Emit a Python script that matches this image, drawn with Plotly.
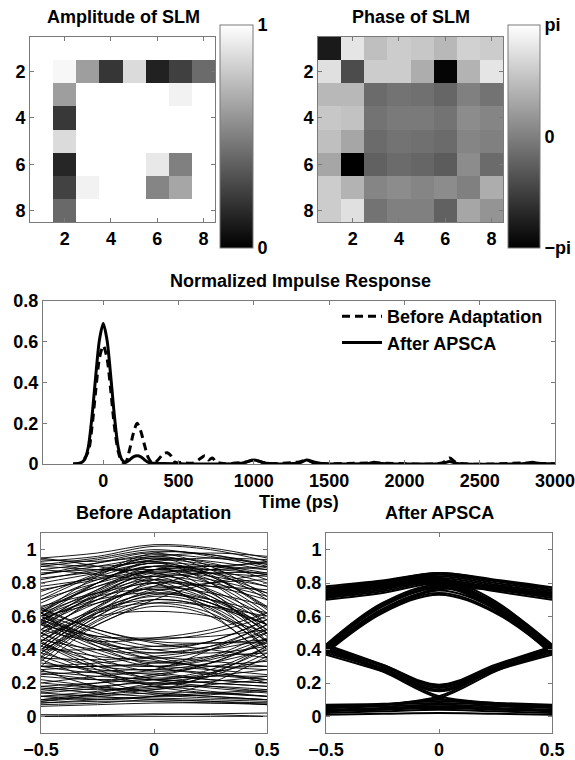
import plotly.graph_objects as go

FONT = "Liberation Sans, Arial, sans-serif"

# ---------------- SLM maps (8x8) ----------------
cells = [1, 2, 3, 4, 5, 6, 7, 8]
amplitude = [
    [1.00, 1.00, 1.00, 1.00, 1.00, 1.00, 1.00, 1.00],
    [1.00, 0.97, 0.62, 0.21, 0.86, 0.13, 0.25, 0.42],
    [1.00, 0.62, 1.00, 1.00, 1.00, 1.00, 0.95, 1.00],
    [1.00, 0.22, 1.00, 1.00, 1.00, 1.00, 1.00, 1.00],
    [1.00, 0.86, 1.00, 1.00, 1.00, 1.00, 1.00, 1.00],
    [1.00, 0.15, 1.00, 1.00, 1.00, 0.91, 0.50, 1.00],
    [1.00, 0.26, 0.95, 1.00, 1.00, 0.52, 0.65, 1.00],
    [1.00, 0.41, 1.00, 1.00, 1.00, 1.00, 1.00, 1.00],
]
phase = [
    [-2.51, 2.51, 1.57, 1.88, 1.76, 1.38, 2.01, 1.88],
    [2.39, -1.26, 1.88, 1.88, 1.13, -3.02, 1.26, 2.51],
    [1.38, 1.38, -0.50, -0.31, -0.38, -0.63, 0.00, -0.31],
    [1.76, 1.63, -0.31, -0.13, -0.13, -0.31, 0.31, 0.13],
    [1.57, 0.94, -0.50, -0.31, -0.38, -0.50, 0.13, 0.00],
    [0.94, -3.14, -0.75, -0.50, -0.63, -0.88, 0.31, -0.50],
    [1.88, 1.26, 0.13, 0.31, 0.13, 0.31, 0.00, 1.13],
    [1.88, 2.39, -0.31, 0.00, 0.00, -0.75, 0.94, 0.50],
]
PI = 3.141592653589793

# ---------------- Impulse responses ----------------
t_before = [-200, -150, -100, -75, -50, -25, 0, 25, 50, 75, 100, 125, 150, 175, 200, 225, 250,
            275, 300, 325, 350, 400, 425, 450, 475, 500, 525, 550, 600, 650, 675, 700, 725, 750,
            800, 950, 1000, 1050, 1100, 1300, 1350, 1400, 1800, 2250, 2300, 2350, 2850, 3000]
r_before = [0.0, 0.005, 0.06, 0.18, 0.36, 0.52, 0.58, 0.52, 0.36, 0.18, 0.06, 0.01, 0.01, 0.07, 0.15, 0.2, 0.16,
            0.09, 0.03, 0.005, 0.01, 0.05, 0.055, 0.04, 0.01, 0.005, 0.01, 0.005, 0.005, 0.03, 0.04, 0.02, 0.03, 0.01,
            0.002, 0.01, 0.02, 0.01, 0.002, 0.01, 0.02, 0.005, 0.005, 0.005, 0.03, 0.005, 0.005, 0.0]
t_after = [-200, -150, -125, -100, -75, -50, -25, 0, 25, 50, 75, 100, 125, 150, 175, 200, 225, 250,
           275, 300, 350, 400, 500, 900, 950, 1000, 1050, 1100, 1300, 1350, 1400, 1450, 1750, 1800,
           1850, 2250, 2300, 2350, 2800, 2850, 2900, 3000]
r_after = [0.0, 0.005, 0.02, 0.08, 0.23, 0.43, 0.61, 0.69, 0.61, 0.43, 0.23, 0.08, 0.02, 0.008, 0.02, 0.035, 0.04, 0.035,
           0.02, 0.008, 0.003, 0.002, 0.001, 0.002, 0.01, 0.02, 0.01, 0.002, 0.005, 0.02, 0.01, 0.003, 0.002, 0.008,
           0.002, 0.003, 0.012, 0.003, 0.002, 0.008, 0.002, 0.001]
time_ticks = [0, 500, 1000, 1500, 2000, 2500, 3000]

# ---------------- Eye diagrams (levels at eye_t) ----------------
eye_t = [-0.5, -0.25, 0.0, 0.25, 0.5]
eye_before = [
    (0.93, 0.96, 1.02, 1.00, 0.93), (0.95, 0.98, 1.03, 1.01, 0.95), (0.90, 0.94, 0.99, 0.97, 0.90),
    (0.88, 0.92, 0.97, 0.95, 0.92), (0.85, 0.90, 0.95, 0.93, 0.88), (0.80, 0.86, 0.92, 0.90, 0.85),
    (0.92, 0.90, 0.93, 0.95, 0.94), (0.78, 0.83, 0.90, 0.88, 0.80), (0.86, 0.88, 0.88, 0.86, 0.84),
    (0.94, 0.93, 0.96, 0.98, 0.96), (0.83, 0.87, 0.94, 0.91, 0.86), (0.91, 0.95, 1.00, 0.96, 0.89),
    (0.40, 0.62, 0.72, 0.66, 0.45), (0.45, 0.66, 0.78, 0.72, 0.50), (0.50, 0.70, 0.82, 0.75, 0.55),
    (0.55, 0.73, 0.86, 0.80, 0.60), (0.60, 0.76, 0.88, 0.82, 0.62), (0.35, 0.58, 0.70, 0.64, 0.40),
    (0.30, 0.55, 0.66, 0.60, 0.35), (0.42, 0.65, 0.80, 0.78, 0.70), (0.62, 0.80, 0.92, 0.80, 0.55),
    (0.65, 0.80, 0.90, 0.75, 0.45), (0.48, 0.60, 0.63, 0.60, 0.50), (0.58, 0.72, 0.85, 0.88, 0.85),
    (0.38, 0.60, 0.76, 0.70, 0.58), (0.62, 0.84, 0.96, 0.88, 0.70), (0.70, 0.85, 0.95, 0.85, 0.65),
    (0.52, 0.74, 0.84, 0.70, 0.40), (0.45, 0.64, 0.75, 0.80, 0.82), (0.68, 0.82, 0.90, 0.88, 0.90),
    (0.55, 0.70, 0.80, 0.62, 0.35), (0.60, 0.72, 0.76, 0.68, 0.55), (0.40, 0.63, 0.74, 0.70, 0.62),
    (0.63, 0.78, 0.86, 0.74, 0.52), (0.36, 0.60, 0.73, 0.68, 0.48), (0.57, 0.75, 0.88, 0.86, 0.78),
    (0.45, 0.62, 0.68, 0.62, 0.42), (0.50, 0.64, 0.70, 0.66, 0.55), (0.33, 0.57, 0.68, 0.66, 0.60),
    (0.58, 0.70, 0.74, 0.68, 0.52), (0.64, 0.78, 0.84, 0.80, 0.72), (0.70, 0.80, 0.87, 0.84, 0.78),
    (0.75, 0.84, 0.92, 0.86, 0.74), (0.82, 0.88, 0.93, 0.84, 0.66), (0.48, 0.72, 0.88, 0.90, 0.88),
    (0.60, 0.80, 0.94, 0.92, 0.82), (0.85, 0.92, 0.98, 0.90, 0.72), (0.72, 0.86, 0.98, 0.97, 0.91),
    (0.56, 0.76, 0.90, 0.84, 0.64), (0.66, 0.74, 0.80, 0.78, 0.76), (0.38, 0.62, 0.82, 0.86, 0.86),
    (0.90, 0.88, 0.86, 0.76, 0.60), (0.42, 0.66, 0.84, 0.82, 0.74), (0.52, 0.68, 0.77, 0.74, 0.66),
    (0.62, 0.74, 0.82, 0.72, 0.50), (0.76, 0.82, 0.88, 0.90, 0.92),
    (0.62, 0.50, 0.42, 0.45, 0.58), (0.60, 0.45, 0.38, 0.42, 0.55), (0.55, 0.40, 0.32, 0.36, 0.50),
    (0.50, 0.35, 0.27, 0.32, 0.45), (0.45, 0.30, 0.23, 0.28, 0.42), (0.40, 0.26, 0.19, 0.24, 0.38),
    (0.58, 0.48, 0.46, 0.50, 0.60), (0.52, 0.45, 0.47, 0.52, 0.62), (0.65, 0.52, 0.44, 0.40, 0.35),
    (0.38, 0.30, 0.28, 0.32, 0.40), (0.62, 0.42, 0.30, 0.25, 0.22), (0.30, 0.26, 0.28, 0.40, 0.55),
    (0.48, 0.32, 0.22, 0.18, 0.15), (0.28, 0.18, 0.16, 0.25, 0.42), (0.57, 0.42, 0.35, 0.40, 0.52),
    (0.44, 0.33, 0.30, 0.35, 0.47), (0.60, 0.47, 0.40, 0.38, 0.42),
    (0.55, 0.48, 0.47, 0.48, 0.52), (0.64, 0.52, 0.45, 0.44, 0.46), (0.46, 0.40, 0.38, 0.42, 0.50),
    (0.35, 0.34, 0.36, 0.40, 0.46), (0.58, 0.44, 0.34, 0.30, 0.30), (0.42, 0.36, 0.33, 0.30, 0.28),
    (0.30, 0.30, 0.32, 0.36, 0.38), (0.50, 0.38, 0.30, 0.34, 0.44), (0.62, 0.46, 0.36, 0.28, 0.20),
    (0.36, 0.26, 0.22, 0.26, 0.34), (0.24, 0.22, 0.24, 0.32, 0.46), (0.44, 0.28, 0.18, 0.14, 0.12),
    (0.18, 0.16, 0.18, 0.26, 0.40), (0.12, 0.10, 0.12, 0.20, 0.36), (0.34, 0.22, 0.14, 0.12, 0.10),
    (0.27, 0.24, 0.22, 0.20, 0.18), (0.14, 0.17, 0.22, 0.24, 0.24), (0.09, 0.13, 0.17, 0.18, 0.16),
    (0.20, 0.17, 0.13, 0.11, 0.10), (0.30, 0.32, 0.35, 0.33, 0.30), (0.08, 0.09, 0.09, 0.08, 0.08),
    (0.17, 0.14, 0.12, 0.13, 0.15), (0.40, 0.40, 0.42, 0.44, 0.44), (0.56, 0.44, 0.40, 0.45, 0.58),
    (0.07, 0.08, 0.10, 0.09, 0.07), (0.10, 0.12, 0.14, 0.12, 0.10), (0.12, 0.15, 0.18, 0.15, 0.12),
    (0.15, 0.18, 0.20, 0.17, 0.14), (0.18, 0.20, 0.22, 0.20, 0.18), (0.20, 0.24, 0.26, 0.22, 0.20),
    (0.25, 0.27, 0.28, 0.26, 0.22), (0.28, 0.30, 0.30, 0.28, 0.25), (0.08, 0.10, 0.12, 0.14, 0.16),
    (0.14, 0.12, 0.10, 0.09, 0.08), (0.22, 0.18, 0.15, 0.14, 0.12), (0.10, 0.14, 0.20, 0.24, 0.28),
    (0.32, 0.28, 0.25, 0.22, 0.20), (0.16, 0.20, 0.25, 0.30, 0.33), (0.06, 0.07, 0.08, 0.08, 0.07),
    (0.09, 0.11, 0.11, 0.10, 0.09), (0.26, 0.22, 0.20, 0.21, 0.24), (0.12, 0.13, 0.16, 0.19, 0.22),
    (0.88, 0.85, 0.80, 0.65, 0.45), (0.40, 0.55, 0.70, 0.80, 0.85),
    (0.95, 0.90, 0.82, 0.70, 0.55), (0.60, 0.68, 0.78, 0.88, 0.93),
    (0.01, 0.01, 0.015, 0.01, 0.00), (0.00, 0.005, 0.01, 0.015, 0.02), (0.00, 0.00, 0.00, 0.00, 0.00),
]
eye_after = [
    (0.70, 0.74, 0.80, 0.75, 0.70), (0.71, 0.75, 0.81, 0.76, 0.71), (0.72, 0.76, 0.82, 0.77, 0.72),
    (0.73, 0.77, 0.83, 0.78, 0.73), (0.74, 0.78, 0.84, 0.79, 0.74), (0.75, 0.79, 0.85, 0.80, 0.75),
    (0.76, 0.80, 0.855, 0.81, 0.76), (0.77, 0.81, 0.86, 0.815, 0.77), (0.78, 0.815, 0.86, 0.82, 0.775),
    (0.38, 0.62, 0.73, 0.62, 0.38), (0.39, 0.63, 0.74, 0.63, 0.39), (0.40, 0.645, 0.755, 0.645, 0.40),
    (0.41, 0.66, 0.77, 0.66, 0.41), (0.42, 0.67, 0.78, 0.67, 0.42), (0.43, 0.68, 0.79, 0.68, 0.43),
    (0.72, 0.78, 0.80, 0.66, 0.40), (0.74, 0.80, 0.82, 0.68, 0.42), (0.76, 0.81, 0.83, 0.69, 0.41),
    (0.73, 0.79, 0.81, 0.67, 0.39), (0.75, 0.80, 0.80, 0.65, 0.38), (0.71, 0.77, 0.79, 0.64, 0.37),
    (0.40, 0.64, 0.76, 0.76, 0.72), (0.42, 0.66, 0.78, 0.78, 0.74), (0.39, 0.63, 0.77, 0.77, 0.73),
    (0.38, 0.28, 0.15, 0.28, 0.38), (0.39, 0.285, 0.16, 0.285, 0.39), (0.40, 0.29, 0.17, 0.29, 0.40),
    (0.41, 0.30, 0.18, 0.30, 0.41), (0.42, 0.31, 0.19, 0.31, 0.42), (0.43, 0.31, 0.18, 0.30, 0.42),
    (0.37, 0.27, 0.155, 0.275, 0.37), (0.40, 0.27, 0.11, 0.07, 0.06), (0.41, 0.28, 0.12, 0.08, 0.06),
    (0.06, 0.07, 0.11, 0.27, 0.41), (0.05, 0.07, 0.12, 0.28, 0.40),
    (0.02, 0.03, 0.04, 0.03, 0.02), (0.03, 0.04, 0.05, 0.04, 0.03), (0.04, 0.05, 0.06, 0.05, 0.04),
    (0.05, 0.06, 0.07, 0.06, 0.05), (0.06, 0.07, 0.08, 0.07, 0.06), (0.07, 0.075, 0.09, 0.08, 0.07),
    (0.01, 0.015, 0.02, 0.015, 0.01), (0.065, 0.07, 0.10, 0.075, 0.06), (0.035, 0.045, 0.055, 0.045, 0.035),
]
eye_ticks = [0, 0.2, 0.4, 0.6, 0.8, 1]
eye_ticktext = ["0", "0.2", "0.4", "0.6", "0.8", "1"]


def px_x(p):
    return p / 575.0


def px_y(p):
    return 1.0 - p / 760.0


tickfont = dict(family=FONT, size=18, color="black", weight="bold")
GRAYLINE = "#7a7a7a"


def axis(**kw):
    d = dict(showline=True, linecolor=GRAYLINE, linewidth=1, mirror="ticks", ticks="inside",
             ticklen=4, tickcolor=GRAYLINE, showgrid=False, zeroline=False, tickfont=tickfont,
             automargin=False, ticklabeloverflow="allow")
    d.update(kw)
    return d


fig = go.Figure()

gray = [[0, "black"], [1, "white"]]
fig.add_trace(go.Heatmap(
    z=amplitude, x=cells, y=cells, colorscale=gray, zmin=0, zmax=1, xaxis="x", yaxis="y",
    colorbar=dict(x=px_x(220), xanchor="left", y=px_y(136.5), yanchor="middle",
                  thickness=33, thicknessmode="pixels", len=223, lenmode="pixels",
                  xpad=0, ypad=0, outlinecolor=GRAYLINE, outlinewidth=1,
                  tickvals=[0, 1], ticktext=["0", "1"], ticks="", tickfont=tickfont)))
fig.add_trace(go.Heatmap(
    z=phase, x=cells, y=cells, colorscale=gray, zmin=-PI, zmax=PI, xaxis="x2", yaxis="y2",
    colorbar=dict(x=px_x(508), xanchor="left", y=px_y(136.5), yanchor="middle",
                  thickness=32, thicknessmode="pixels", len=223, lenmode="pixels",
                  xpad=0, ypad=0, outlinecolor=GRAYLINE, outlinewidth=1,
                  tickvals=[-PI, 0, PI], ticktext=["\u2212pi", "0", "pi"], ticks="", tickfont=tickfont)))

fig.add_trace(go.Scatter(x=t_before, y=r_before, mode="lines", name="Before Adaptation",
                         line=dict(color="black", width=3, dash="8px,5px", shape="spline", smoothing=0.8),
                         xaxis="x3", yaxis="y3"))
fig.add_trace(go.Scatter(x=t_after, y=r_after, mode="lines", name="After APSCA",
                         line=dict(color="black", width=3, shape="spline", smoothing=0.8),
                         xaxis="x3", yaxis="y3"))

for tr in eye_before:
    fig.add_trace(go.Scatter(x=eye_t, y=list(tr), mode="lines", showlegend=False,
                             line=dict(color="black", width=0.9, shape="spline", smoothing=1.0),
                             xaxis="x4", yaxis="y4"))
for tr in eye_after:
    fig.add_trace(go.Scatter(x=eye_t, y=list(tr), mode="lines", showlegend=False,
                             line=dict(color="black", width=2.0, shape="spline", smoothing=1.0),
                             xaxis="x5", yaxis="y5"))

heat_y = [px_y(222), px_y(37)]
fig.update_layout(
    width=575, height=760, margin=dict(l=0, r=0, t=0, b=0, pad=0, autoexpand=False),
    paper_bgcolor="white", plot_bgcolor="white",
    font=dict(family=FONT, size=18, color="black", weight="bold"),
    showlegend=True, hovermode=False,
    legend=dict(x=px_x(548), xanchor="right", y=px_y(298), yanchor="top",
                bgcolor="rgba(0,0,0,0)", font=dict(family=FONT, size=18, color="black", weight="bold"),
                tracegroupgap=0, itemwidth=40),
    xaxis=axis(domain=[px_x(30), px_x(215)], range=[0.5, 8.5], tickvals=[2, 4, 6, 8], anchor="y"),
    yaxis=axis(domain=heat_y, range=[8.5, 0.5], tickvals=[2, 4, 6, 8], anchor="x"),
    xaxis2=axis(domain=[px_x(318), px_x(503)], range=[0.5, 8.5], tickvals=[2, 4, 6, 8], anchor="y2"),
    yaxis2=axis(domain=heat_y, range=[8.5, 0.5], tickvals=[2, 4, 6, 8], anchor="x2"),
    xaxis3=axis(domain=[px_x(43), px_x(555)], range=[-400, 3000], tickvals=time_ticks, anchor="y3"),
    yaxis3=axis(domain=[px_y(464), px_y(301)], range=[0, 0.8], tickvals=[0, 0.2, 0.4, 0.6, 0.8],
                ticktext=["0", "0.2", "0.4", "0.6", "0.8"], anchor="x3"),
    xaxis4=axis(domain=[px_x(41), px_x(267)], range=[-0.5, 0.5], tickvals=[-0.5, 0, 0.5],
                ticktext=["\u22120.5", "0", "0.5"], anchor="y4"),
    yaxis4=axis(domain=[px_y(733), px_y(533)], range=[-0.1, 1.1], tickvals=eye_ticks,
                ticktext=eye_ticktext, anchor="x4"),
    xaxis5=axis(domain=[px_x(326), px_x(552)], range=[-0.5, 0.5], tickvals=[-0.5, 0, 0.5],
                ticktext=["\u22120.5", "0", "0.5"], anchor="y5"),
    yaxis5=axis(domain=[px_y(733), px_y(533)], range=[-0.1, 1.1], tickvals=eye_ticks,
                ticktext=eye_ticktext, anchor="x5"),
)

titles = [
    ("Amplitude of SLM", 123, 17),
    ("Phase of SLM", 411, 17),
    ("Normalized Impulse Response", 300, 281),
    ("Time (ps)", 299, 502),
    ("Before Adaptation", 154, 513),
    ("After APSCA", 439, 513),
]
for text, xp, yp in titles:
    fig.add_annotation(text=text, x=px_x(xp), y=px_y(yp), xref="paper", yref="paper",
                       xanchor="center", yanchor="middle", showarrow=False,
                       font=dict(family=FONT, size=18, color="black", weight="bold"))

fig.write_html("out.html", config={"displayModeBar": False},
               post_script="document.body.style.margin='0';document.body.style.overflow='hidden';")
